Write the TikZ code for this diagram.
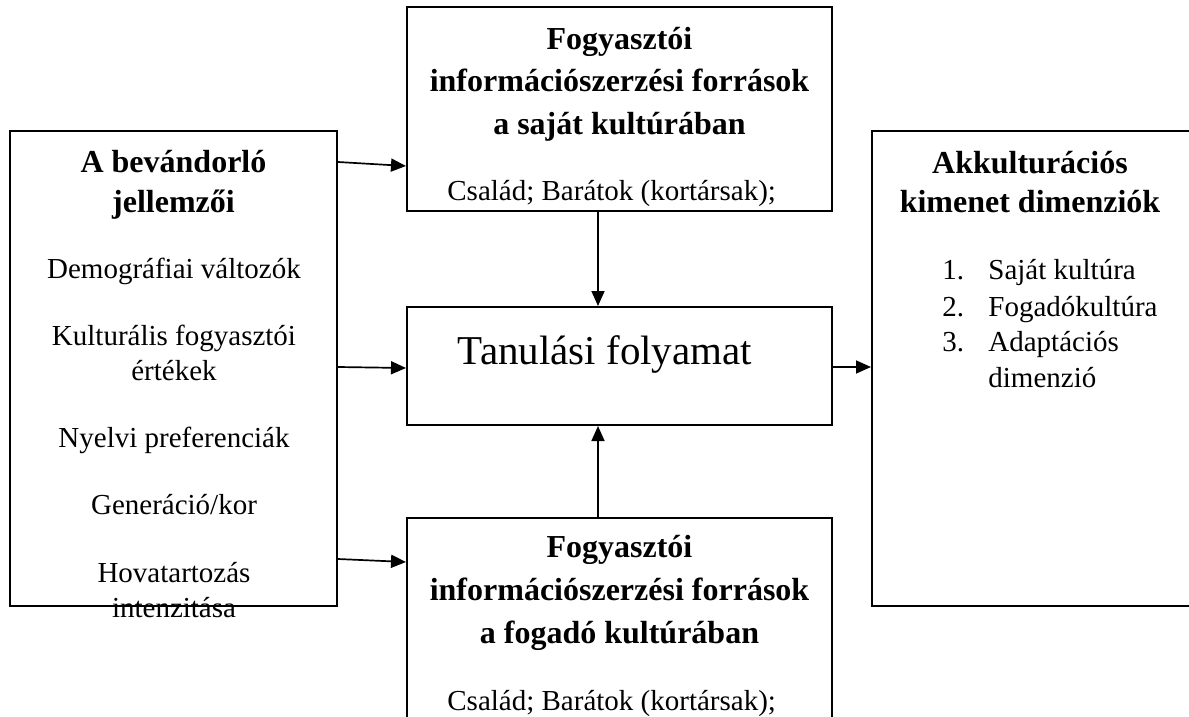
\documentclass[tikz,border=0pt]{standalone}
\usepackage{fontspec}
\setmainfont{Liberation Serif}
\usetikzlibrary{positioning,arrows.meta}

\tikzset{
  panel/.style={draw, line width=1pt, inner sep=0pt},
  head/.style={anchor=base, inner sep=0pt, font=\fontsize{16}{19}\selectfont\bfseries},
  body/.style={anchor=base, inner sep=0pt, font=\fontsize{14.5}{17}\selectfont},
  arr/.style={line width=0.85pt, -{Triangle[length=7.5pt,width=6.5pt]}}
}

\begin{document}
\begin{tikzpicture}[x=0.5pt,y=-0.5pt]
	\useasboundingbox (0,0) rectangle (1189,717);
	\clip (0,0) rectangle (1189,717);

	% boxes
	\node[panel, minimum width=163.5pt, minimum height=237.5pt] (lbox) at (173.5,368.5) {};
	\node[panel, minimum width=212.5pt, minimum height=102pt] (tbox) at (619.5,109) {};
	\node[panel, minimum width=212.5pt, minimum height=59pt] (cbox) at (619.5,366) {};
	\node[panel, minimum width=212.5pt, minimum height=141pt] (bbox) at (619.5,659) {};
	\node[panel, minimum width=184pt, minimum height=237.5pt] (rbox) at (1056,368.5) {};

	% left box
	\node[head] (lt1) at (173.5,172) {A bevándorló};
	\node[head] (lt2) at (173.5,213) {jellemzői};
	\node[body] (l1) at (174,278) {Demográfiai változók};
	\node[body] (l2a) at (174,345) {Kulturális fogyasztói};
	\node[body] (l2b) at (174,380) {értékek};
	\node[body] (l3) at (174,447) {Nyelvi preferenciák};
	\node[body] (l4) at (174,514) {Generáció/kor};
	\node[body] (l5a) at (174,582) {Hovatartozás};
	\node[body] (l5b) at (174,617) {intenzitása};

	% top box
	\node[head] (tt1) at (619.5,50) {Fogyasztói};
	\node[head] (tt2) at (619.5,92) {információszerzési források};
	\node[head] (tt3) at (619.5,134) {a saját kultúrában};
	\node[body, anchor=base west] (tt4) at (447,200) {Család; Barátok (kortársak);};

	% centre box
	\node[anchor=base, inner sep=0pt, font=\fontsize{20.5}{24}\selectfont] (ct) at (605,364) {Tanulási folyamat};

	% bottom box
	\node[head] (bt1) at (619.5,557) {Fogyasztói};
	\node[head] (bt2) at (619.5,600) {információszerzési források};
	\node[head] (bt3) at (619.5,643) {a fogadó kultúrában};
	\node[body, anchor=base west] (bt4) at (447,710) {Család; Barátok (kortársak);};

	% right box
	\node[head] (rt1) at (1030,173) {Akkulturációs};
	\node[head] (rt2) at (1030,213) {kimenet dimenziók};
	\node[body, anchor=base west] (rn1) at (942,279) {1.};
	\node[body, anchor=base west] (rn2) at (942,316) {2.};
	\node[body, anchor=base west] (rn3) at (942,351) {3.};
	\node[body, anchor=base west] (ri1) at (988,279) {Saját kultúra};
	\node[body, anchor=base west] (ri2) at (988,316) {Fogadókultúra};
	\node[body, anchor=base west] (ri3) at (988,351) {Adaptációs};
	\node[body, anchor=base west] (ri4) at (988,387) {dimenzió};

	% connectors
	\draw[arr] (lbox.east |- 0,162) -- (tbox.west |- 0,166);
	\draw[arr] (lbox.east |- 0,367) -- (cbox.west |- 0,368);
	\draw[arr] (lbox.east |- 0,559) -- (bbox.west |- 0,562);
	\draw[arr] (tbox.south -| 598,0) -- (cbox.north -| 598,0);
	\draw[arr] (bbox.north -| 598,0) -- (cbox.south -| 598,0);
	\draw[arr] (cbox.east |- 0,367) -- (rbox.west |- 0,367);
\end{tikzpicture}
\end{document}
